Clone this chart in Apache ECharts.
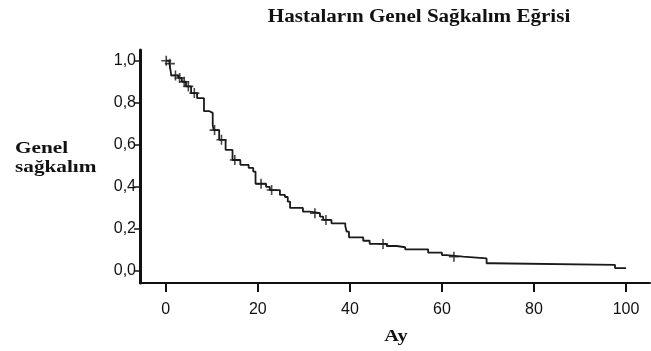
<!DOCTYPE html>
<html>
<head>
<meta charset="utf-8">
<script src="https://cdn.jsdelivr.net/npm/echarts@6/dist/echarts.min.js"></script>
<style>html,body{margin:0;padding:0;background:#fff}#c{width:651px;height:351px}</style>
</head>
<body>
<div id="c"></div>
<script>
// Kaplan-Meier step data (month of event, survival after event)
var eventMonths = [0, 0.8, 1.2, 2.7, 3.5, 4.4, 5.5, 6.8, 8.3, 9.5, 10.2, 10.4, 11.6, 13.0, 14.5, 16.2, 18.0, 19.0, 19.5, 21.8, 22.6, 24.8, 25.9, 26.5, 27.0, 29.8, 31.3, 33.5, 34.2, 36.0, 39.0, 39.3, 39.8, 42.9, 44.3, 48.0, 50.2, 52.0, 57.0, 60.0, 61.0, 64.6, 69.7, 70.8, 97.6, 100];
var survival    = [1.0, 0.986, 0.93, 0.918, 0.90, 0.878, 0.846, 0.822, 0.76, 0.752, 0.695, 0.67, 0.624, 0.576, 0.528, 0.505, 0.49, 0.473, 0.415, 0.40, 0.385, 0.362, 0.352, 0.33, 0.30, 0.282, 0.275, 0.259, 0.243, 0.227, 0.214, 0.187, 0.16, 0.144, 0.129, 0.119, 0.113, 0.103, 0.087, 0.076, 0.068, 0.06, 0.037, 0.029, 0.014, 0.014];
// censored observations (months)
var censorMonths = [0.1, 0.9, 2.1, 3.0, 4.0, 4.9, 6.2, 10.6, 12.1, 15.0, 20.7, 23.0, 32.4, 34.8, 47.2, 62.6];
var xTicks = [0, 20, 40, 60, 80, 100];
var yTicks = [0, 0.2, 0.4, 0.6, 0.8, 1.0];
var yTickLabels = ['0,0', '0,2', '0,4', '0,6', '0,8', '1,0'];
var titleText = 'Hastaların Genel Sağkalım Eğrisi';
var yName = 'Genel\nsağkalım';
var xName = 'Ay';

function survAt(t) {
  var s = survival[0];
  for (var i = 0; i < eventMonths.length; i++) { if (eventMonths[i] <= t) s = survival[i]; }
  return s;
}
var lineData = eventMonths.map(function (m, i) { return [m, survival[i]]; });
var censorData = censorMonths.map(function (m) { return [m, survAt(m)]; });

var serif = '"Liberation Serif", "DejaVu Serif", serif';
var sans = '"Liberation Sans", Arial, sans-serif';
var chart = echarts.init(document.getElementById('c'));
chart.setOption({
  animation: false,
  backgroundColor: '#fff',
  graphic: [
    { type: 'text', x: 419, y: 17, scaleX: 1.17, z: 10,
      style: { text: titleText, font: 'bold 18px ' + serif, fill: '#111', align: 'center', verticalAlign: 'middle' } },
    { type: 'text', x: 15, y: 139, scaleX: 1.25, z: 10,
      style: { text: yName, font: 'bold 17px ' + serif, fill: '#111', lineHeight: 19, align: 'left', verticalAlign: 'top' } },
    { type: 'text', x: 396, y: 337, scaleX: 1.2, z: 10,
      style: { text: xName, font: 'bold 17px ' + serif, fill: '#111', align: 'center', verticalAlign: 'middle' } }
  ],
  grid: { left: 140, right: 1, top: 50, bottom: 68 },
  xAxis: {
    type: 'value', min: -5.6, max: 105.2,
    axisLine: { onZero: false, lineStyle: { color: '#111', width: 2 } },
    axisTick: { show: true, length: 9, customValues: xTicks, lineStyle: { color: '#111', width: 2 } },
    axisLabel: { customValues: xTicks, margin: 19, fontFamily: sans, fontSize: 16, color: '#111' },
    splitLine: { show: false }
  },
  yAxis: {
    type: 'value', min: -0.057, max: 1.051,
    axisLine: { onZero: false, lineStyle: { color: '#111', width: 3 } },
    axisTick: { show: true, length: 6, customValues: yTicks, lineStyle: { color: '#111', width: 1.5 } },
    axisLabel: { customValues: yTicks, margin: 4, fontFamily: sans, fontSize: 16, color: '#111',
      formatter: function (v) { var i = yTicks.findIndex(function (t) { return Math.abs(t - v) < 1e-6; }); return i >= 0 ? yTickLabels[i] : ''; } },
    splitLine: { show: false }
  },
  series: [
    { type: 'line', step: 'end', data: lineData, showSymbol: false, z: 3,
      lineStyle: { color: '#1a1a1a', width: 1.8 } },
    { type: 'scatter', data: censorData, z: 4,
      symbol: 'path://M4.2,0H5.8V10H4.2Z M0,4.2H10V5.8H0Z', symbolSize: 10,
      itemStyle: { color: '#1a1a1a' } }
  ]
});
</script>
</body>
</html>
